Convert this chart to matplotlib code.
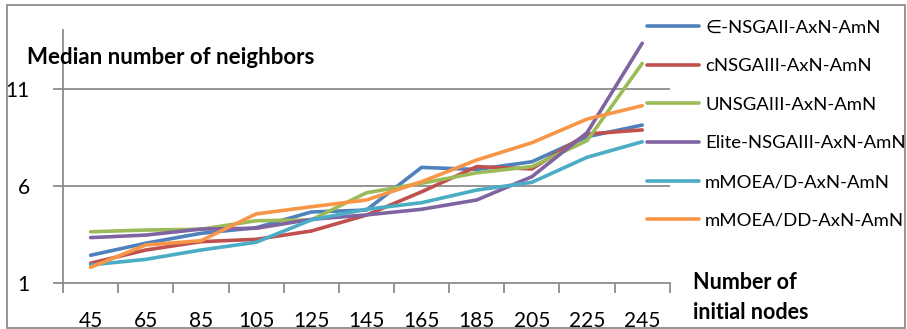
import matplotlib
matplotlib.use("Agg")
import matplotlib.pyplot as plt
from matplotlib.patches import Rectangle

plt.rcParams['font.family'] = ['Lato', 'DejaVu Sans']

nodes = [45, 65, 85, 105, 125, 145, 165, 185, 205, 225, 245]

eps_nsga2 = [2.43, 3.05, 3.56, 3.85, 4.66, 4.76, 6.96, 6.85, 7.25, 8.54, 9.14]
c_nsga3 = [2.02, 2.70, 3.13, 3.25, 3.68, 4.50, 5.70, 7.00, 6.88, 8.68, 8.89]
u_nsga3 = [3.64, 3.73, 3.77, 4.21, 4.25, 5.65, 6.14, 6.68, 7.00, 8.34, 12.32]
elite_nsga3 = [3.34, 3.47, 3.78, 3.82, 4.28, 4.51, 4.80, 5.28, 6.48, 8.75, 13.36]
mmoead = [1.93, 2.22, 2.70, 3.10, 4.25, 4.80, 5.14, 5.79, 6.19, 7.48, 8.28]
mmoeadd = [1.81, 2.96, 3.18, 4.56, 4.93, 5.28, 6.22, 7.34, 8.23, 9.45, 10.14]

series = [
    ("\u2208-NSGAII-AxN-AmN", eps_nsga2, "#4F81BD"),
    ("cNSGAIII-AxN-AmN", c_nsga3, "#C0504D"),
    ("UNSGAIII-AxN-AmN", u_nsga3, "#9BBB59"),
    ("Elite-NSGAIII-AxN-AmN", elite_nsga3, "#8064A2"),
    ("mMOEA/D-AxN-AmN", mmoead, "#4BACC6"),
    ("mMOEA/DD-AxN-AmN", mmoeadd, "#F79646"),
]

fig = plt.figure(figsize=(9.07, 3.29), dpi=100)
ax = fig.add_axes([0.0695, 0.1398, 0.669, 0.769])

pos = list(range(len(nodes)))
for name, vals, col in series:
    ax.plot(pos, vals, color=col, lw=2.6, label=name, solid_capstyle='round')

ax.set_xlim(-0.5, len(nodes) - 0.5)
ax.set_ylim(1, 14.04)

grid_col = "#8C8C8C"
for v in [6, 11]:
    ax.axhline(v, color=grid_col, lw=1.3, zorder=0)

ax.set_yticks([1, 6, 11])
ax.set_yticklabels(["1", "6", "11"])
ax.set_xticks([p - 0.5 for p in pos] + [len(nodes) - 0.5])
ax.set_xticklabels([])
ax.set_xticks(pos, minor=True)
ax.set_xticklabels([str(n) for n in nodes], minor=True)

ax.tick_params(axis='x', which='major', direction='out', length=7, width=1.3, color=grid_col)
ax.tick_params(axis='x', which='minor', length=0, pad=20, labelsize=15)
ax.tick_params(axis='y', direction='out', length=7, width=1.3, color=grid_col, pad=17, labelsize=15)

for s in ['top', 'right']:
    ax.spines[s].set_visible(False)
for s in ['left', 'bottom']:
    ax.spines[s].set_color(grid_col)
    ax.spines[s].set_linewidth(1.3)

fig.text(0.030, 0.826, "Median number of neighbors", fontsize=16, fontweight='bold', va='center')
fig.text(0.764, 0.095, "Number of\ninitial nodes", fontsize=15.5, fontweight='bold',
         va='center', ha='left', linespacing=1.5)

fig.legend(loc='upper left', bbox_to_anchor=(0.705, 0.962), frameon=False,
           fontsize=13.3, handlelength=2.8, handletextpad=0.35, labelspacing=1.22,
           borderaxespad=0)

fig.patches.append(Rectangle((0.008, 0.003), 0.99, 0.982, transform=fig.transFigure,
                             fill=False, edgecolor="#8C8C8C", lw=1.3))

fig.savefig("out.png", dpi=100)
